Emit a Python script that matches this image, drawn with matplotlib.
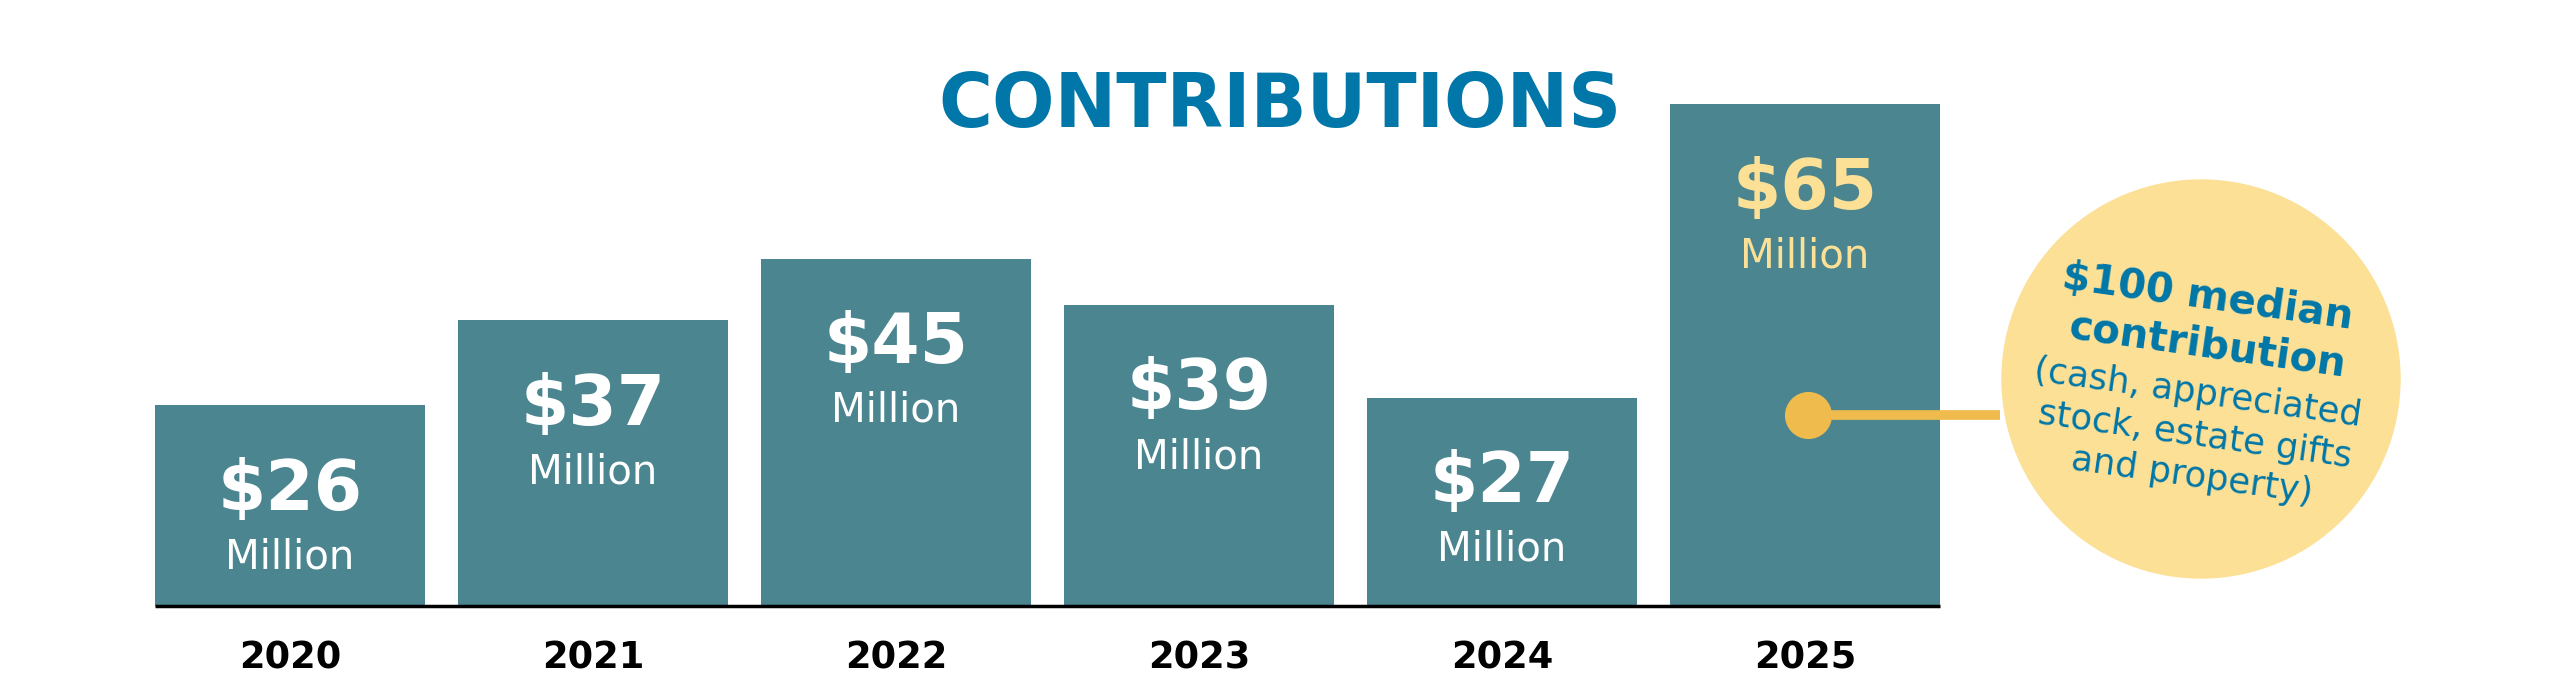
import matplotlib.pyplot as plt
from matplotlib.patches import Ellipse

# data
years = ['2020', '2021', '2022', '2023', '2024', '2025']
values = [26, 37, 45, 39, 27, 65]
value_labels = ['$26', '$37', '$45', '$39', '$27', '$65']
unit_label = 'Million'
title = 'CONTRIBUTIONS'
note_bold = ['$100 median', 'contribution']
note_rest = ['(cash, appreciated', 'stock, estate gifts', 'and property)']

teal = '#4A8590'
blue = '#0077A8'
pale = '#FCE096'
gold = '#EFBB4C'
font = 'DejaVu Sans'

W, H = 2560, 694
fig = plt.figure(figsize=(W / 100, H / 100), dpi=100)
ax = fig.add_axes([0, 0, 1, 1])

pitch = 303.0      # px between bar centres
x0 = 290.0         # px of first bar centre
base = 88.0        # px from bottom to baseline
ppu = 7.72         # px per million
ax.set_xlim(-x0 / pitch, (W - x0) / pitch)
ax.set_ylim(-base / ppu, (H - base) / ppu)
ax.axis('off')

xs = list(range(len(years)))
ax.bar(xs, values, width=0.888, color=teal, zorder=2)
ax.plot([-0.444, len(years) - 1 + 0.444], [0, 0], color='black', lw=2.5, zorder=3,
        solid_capstyle='butt')

for i, (v, lab) in enumerate(zip(values, value_labels)):
    c = pale if i == len(years) - 1 else 'white'
    ax.text(i, v - 11.0, lab, ha='center', va='center', color=c,
            fontsize=50, fontweight='bold', family=font, zorder=4)
    ax.text(i, v - 19.7, unit_label, ha='center', va='center', color=c,
            fontsize=29, family=font, zorder=4)
    ax.text(i, -6.8, years[i], ha='center', va='center', color='black',
            fontsize=26.5, fontweight='heavy' if i == len(years) - 1 else 'semibold',
            family=font)

fig.text(0.5, 1 - 106 / H, title, ha='center', va='center', color=blue,
         fontsize=53, fontweight='heavy', family=font)


def px(x, y):
    # top-left pixel -> data
    return (x - x0) / pitch, (H - y - base) / ppu


# callout circle
cx, cy = px(2201, 379)
ax.add_patch(Ellipse((cx, cy), 398 / pitch, 398 / ppu, color=pale, zorder=1))

# dot and connector
dx, dy = px(1808, 415)
ex, _ = px(2000, 415)
ax.plot([dx, ex], [dy, dy], color=gold, lw=7, zorder=5, solid_capstyle='butt')
ax.scatter([dx], [dy], s=1150, color=gold, zorder=6, linewidths=0)

rot = -8
for t, (x, y) in zip(note_bold, [(2208, 298), (2207, 346)]):
    tx, ty = px(x, y)
    ax.text(tx, ty, t, ha='center', va='center', color=blue, fontsize=29,
            fontweight='bold', family=font, rotation=rot, rotation_mode='anchor')
for t, (x, y) in zip(note_rest, [(2198, 393), (2195, 435), (2192, 476)]):
    tx, ty = px(x, y)
    ax.text(tx, ty, t, ha='center', va='center', color=blue, fontsize=25.5,
            family=font, rotation=rot, rotation_mode='anchor')

fig.savefig('out.png', dpi=100, facecolor='white')
